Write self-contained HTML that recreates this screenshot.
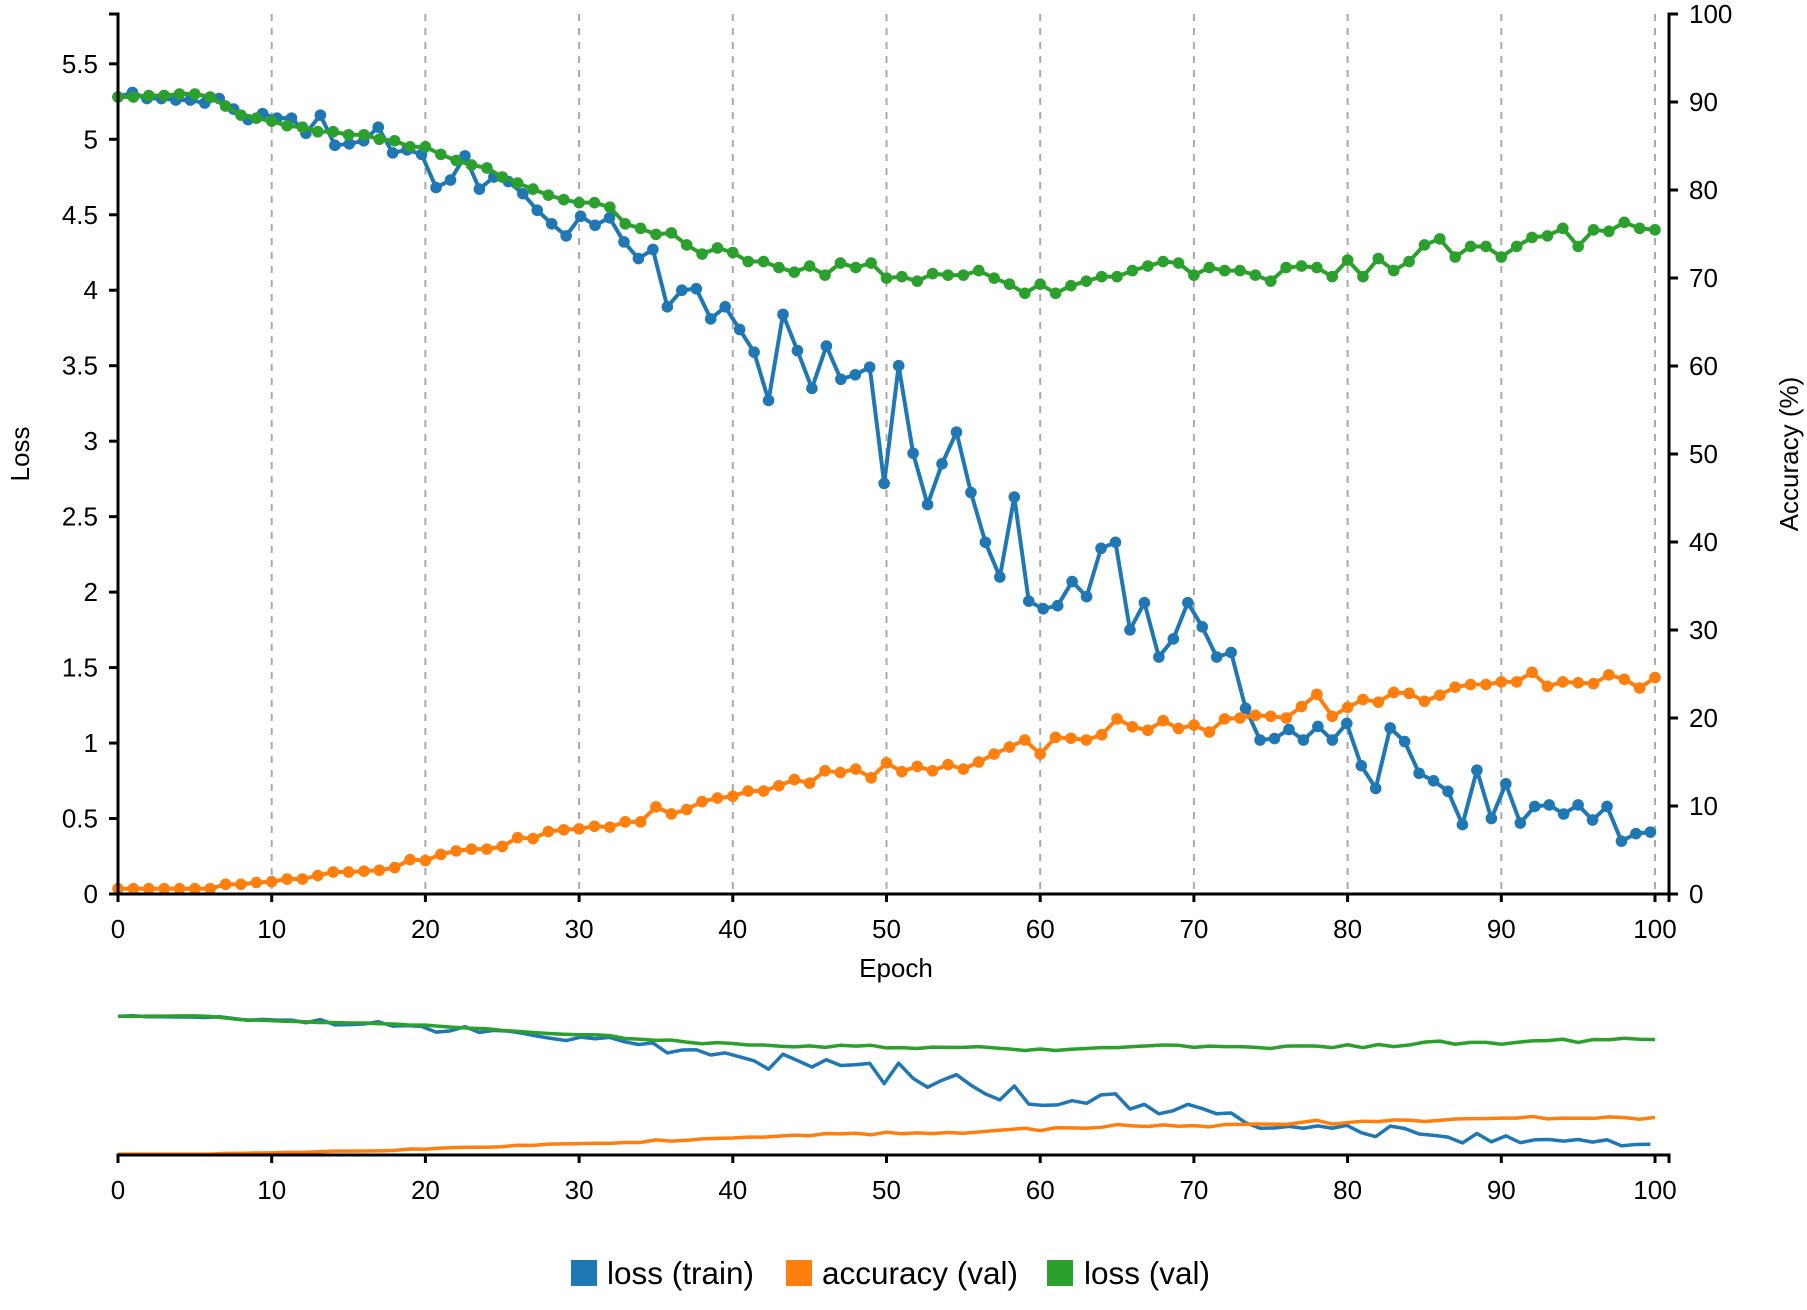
<!DOCTYPE html>
<html>
<head>
<meta charset="utf-8">
<style>
  html, body { margin: 0; padding: 0; background: #fff; }
  body { width: 1807px; height: 1305px; overflow: hidden; }
  svg text { font-family: "Liberation Sans", Arial, sans-serif; fill: #000; }
</style>
</head>
<body>
<svg id="chart" width="1807" height="1305" viewBox="0 0 1807 1305" xmlns="http://www.w3.org/2000/svg"></svg>
<script>
// ---- data ----
const trainLoss = [5.28,5.31,5.27,5.27,5.26,5.26,5.24,5.27,5.20,5.13,5.17,5.14,5.14,5.04,5.16,4.96,4.97,4.99,5.08,4.91,4.93,4.90,4.68,4.73,4.89,4.67,4.75,4.72,4.64,4.53,4.44,
  4.36,4.49,4.43,4.48,4.32,4.21,4.27,3.89,4.00,4.01,3.81,3.89,3.74,3.59,3.27,3.84,3.60,3.35,3.63,3.41,3.44,3.49,2.72,3.50,2.92,2.58,2.85,3.06,2.66,2.33,2.10,2.63,1.94,1.89,1.91,
  2.07,1.97,2.29,2.33,1.75,1.93,1.57,1.69,1.93,1.77,1.57,1.60,1.23,1.02,1.03,1.09,1.02,1.11,1.02,1.13,0.85,0.70,1.10,1.01,0.80,0.75,0.68,0.46,0.82,0.50,0.73,0.47,0.58,0.59,0.53,0.59,0.49,0.58,0.35,0.40,0.41];
const trainEpochStep = 99.7 / 106;
const valAcc = [0.6,0.6,0.6,0.6,0.6,0.6,0.6,1.1,1.1,1.3,1.4,1.7,1.7,2.1,2.5,2.5,2.6,2.7,3.0,3.9,3.8,4.5,4.9,5.1,5.1,5.4,6.4,6.3,7.1,7.3,7.4,7.7,7.6,8.2,
  8.2,9.9,9.1,9.6,10.5,10.9,11.1,11.7,11.7,12.3,13.0,12.6,14.0,13.8,14.2,13.2,14.9,13.9,14.5,14.0,14.7,14.2,15.0,15.9,16.7,17.5,15.9,17.8,
  17.7,17.5,18.1,19.9,19.0,18.6,19.7,18.8,19.2,18.4,19.9,20.0,20.3,20.2,20.0,21.3,22.7,20.2,21.2,22.1,21.8,22.9,22.8,21.9,22.6,23.5,23.8,23.8,24.1,24.1,25.2,23.6,24.1,24.0,23.9,24.9,24.4,23.4,24.6];
const valLoss = [5.28,5.28,5.29,5.29,5.30,5.30,5.28,5.22,5.16,5.14,5.12,5.09,5.08,5.05,5.05,5.03,5.03,5.00,4.99,4.95,4.95,4.90,4.86,4.83,4.81,4.75,4.71,4.67,4.63,4.60,4.58,4.58,
  4.55,4.44,4.41,4.37,4.38,4.30,4.24,4.28,4.25,4.19,4.19,4.15,4.12,4.16,4.10,4.18,4.15,4.18,4.08,4.09,4.06,4.11,4.10,4.10,4.13,4.08,4.04,3.98,4.04,3.98,4.03,
  4.06,4.09,4.09,4.13,4.16,4.19,4.18,4.10,4.15,4.13,4.13,4.10,4.06,4.15,4.16,4.15,4.09,4.20,4.09,4.21,4.13,4.19,4.30,4.34,4.22,4.29,4.29,4.22,4.29,4.35,4.36,4.41,4.29,4.40,4.39,4.45,4.41,4.40];
const xTicks = [0,10,20,30,40,50,60,70,80,90,100];
const lossTicks = [0,0.5,1,1.5,2,2.5,3,3.5,4,4.5,5,5.5];
const lossTickLabels = ["0","0.5","1","1.5","2","2.5","3","3.5","4","4.5","5","5.5"];
const accTicks = [0,10,20,30,40,50,60,70,80,90,100];

// ---- layout ----
const NS = "http://www.w3.org/2000/svg";
const svg = document.getElementById("chart");
const X0 = 118, X1 = 1655, AXR = 1669;
const TOP = 14, BOT = 894;
const LOSS_MAX = 5.83;
const CTOP = 1002, CBOT = 1155;
const FS = 26;
const C = { blue: "#1f77b4", orange: "#ff7f0e", green: "#2ca02c" };

function x(e) { return X0 + (X1 - X0) * e / 100; }
function yLoss(v) { return BOT - (BOT - TOP) * v / LOSS_MAX; }
function yAcc(v) { return BOT - (BOT - TOP) * v / 100; }
function cyLoss(v) { return CBOT - (CBOT - CTOP) * v / LOSS_MAX; }
function cyAcc(v) { return CBOT - (CBOT - CTOP) * v / 100; }

function el(tag, attrs, parent) {
  const e = document.createElementNS(NS, tag);
  for (const k in attrs) e.setAttribute(k, attrs[k]);
  (parent || svg).appendChild(e);
  return e;
}
function txt(s, attrs, parent) { const t = el("text", attrs, parent); t.textContent = s; return t; }

// gridlines
const grid = el("g", {});


xTicks.slice(1).forEach(t => {
  const l = el("line", { x1: x(t), x2: x(t), y1: TOP, y2: BOT, stroke: "#aaa", "stroke-width": 2, "stroke-dasharray": "7,7" }, grid);
  
  
});

// series
function series(name, xs, ys, color, yf, dots) {
  const g = el("g", {});
  
  
  const pts = ys.map((v, i) => x(xs(i)).toFixed(2) + "," + yf(v).toFixed(2)).join(" ");
  el("polyline", { points: pts, fill: "none", stroke: color, "stroke-width": dots ? 4 : 3.5, "stroke-linejoin": "round" }, g);
  if (dots) ys.forEach((v, i) => {
    const c = el("circle", { cx: x(xs(i)), cy: yf(v), r: 5.8, fill: color }, g);
    
    
  });
}
const trainX = i => i * trainEpochStep;
const valX = i => i;
series("loss-train-line", trainX, trainLoss, C.blue, yLoss, true);
series("accuracy-val-line", valX, valAcc, C.orange, yAcc, true);
series("loss-val-line", valX, valLoss, C.green, yLoss, true);

// main x axis
const xa = el("g", {});


el("path", { d: `M${X0},${BOT + 8}V${BOT}H${AXR}V${BOT + 8}`, fill: "none", stroke: "#000", "stroke-width": 3 }, xa);
xTicks.forEach(t => {
  el("line", { x1: x(t), x2: x(t), y1: BOT, y2: BOT + 8, stroke: "#000", "stroke-width": 3 }, xa);
  const lb = txt(String(t), { x: x(t), y: BOT + 44, "text-anchor": "middle", "font-size": FS }, xa);
  
  
});
const xt = txt("Epoch", { x: 896, y: 977, "text-anchor": "middle", "font-size": FS });



// left axis
const ya = el("g", {});


el("path", { d: `M${X0 - 9},${TOP}H${X0}V${BOT}H${X0 - 9}`, fill: "none", stroke: "#000", "stroke-width": 3 }, ya);
lossTicks.forEach((t, i) => {
  el("line", { x1: X0 - 9, x2: X0, y1: yLoss(t), y2: yLoss(t), stroke: "#000", "stroke-width": 3 }, ya);
  const lb = txt(lossTickLabels[i], { x: X0 - 20, y: yLoss(t) + 9, "text-anchor": "end", "font-size": FS }, ya);
  
  
});
const lt = txt("Loss", { x: 0, y: 0, "text-anchor": "middle", "font-size": FS, transform: "translate(29,454) rotate(-90)" });



// right axis
const ra = el("g", {});


el("path", { d: `M${AXR + 9},${TOP}H${AXR}V${BOT}H${AXR + 9}`, fill: "none", stroke: "#000", "stroke-width": 3 }, ra);
accTicks.forEach(t => {
  el("line", { x1: AXR, x2: AXR + 9, y1: yAcc(t), y2: yAcc(t), stroke: "#000", "stroke-width": 3 }, ra);
  const lb = txt(String(t), { x: AXR + 20, y: yAcc(t) + 9, "text-anchor": "start", "font-size": FS }, ra);
  
  
});
const at = txt("Accuracy (%)", { x: 0, y: 0, "text-anchor": "middle", "font-size": FS, transform: "translate(1798,454) rotate(-90)" });



// context (overview) chart
const ctx = el("g", {});


function cline(name, xs, ys, color, yf) {
  const pts = ys.map((v, i) => x(xs(i)).toFixed(2) + "," + yf(v).toFixed(2)).join(" ");
  const p = el("polyline", { points: pts, fill: "none", stroke: color, "stroke-width": 3.5, "stroke-linejoin": "round" }, ctx);
  
  
}
cline("overview-loss-train", trainX, trainLoss, C.blue, cyLoss);
cline("overview-accuracy-val", valX, valAcc, C.orange, cyAcc);
cline("overview-loss-val", valX, valLoss, C.green, cyLoss);
el("path", { d: `M${X0},${CBOT + 8}V${CBOT}H${AXR}V${CBOT + 8}`, fill: "none", stroke: "#000", "stroke-width": 3 }, ctx);
xTicks.forEach(t => {
  el("line", { x1: x(t), x2: x(t), y1: CBOT, y2: CBOT + 8, stroke: "#000", "stroke-width": 3 }, ctx);
  const lb = txt(String(t), { x: x(t), y: CBOT + 44, "text-anchor": "middle", "font-size": FS }, ctx);
  
  
});

// legend
const leg = el("g", {});


const legendItems = [["loss (train)", C.blue, 571, 607], ["accuracy (val)", C.orange, 786, 822], ["loss (val)", C.green, 1047, 1084]];
legendItems.forEach(([label, color, sx, tx]) => {
  const g = el("g", {}, leg);
  
  
  el("rect", { x: sx, y: 1260, width: 26, height: 26, fill: color }, g);
  txt(label, { x: tx, y: 1284, "font-size": 31.5 }, g);
});
</script>
</body>
</html>
